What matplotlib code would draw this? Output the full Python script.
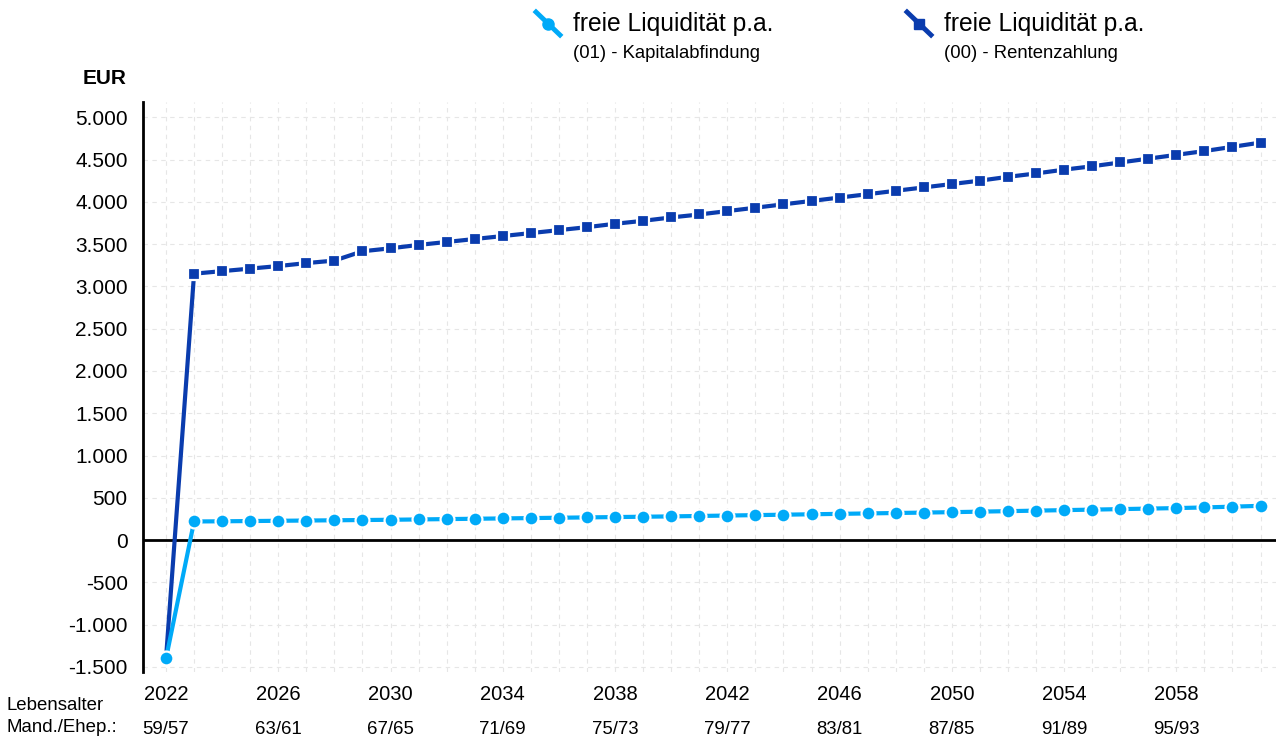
import numpy as np
import matplotlib.pyplot as plt
from matplotlib.lines import Line2D

plt.rcParams['font.family'] = ['Liberation Sans', 'DejaVu Sans']

jahre = list(range(2022, 2062))
rente = [-1400, 3150, 3180, 3210, 3240, 3275, 3305, 3415,
         3450, 3490, 3525, 3560, 3595, 3630, 3665, 3700, 3740, 3775,
         3815, 3850, 3890, 3930, 3970, 4010, 4050, 4090, 4130, 4170,
         4210, 4250, 4295, 4335, 4380, 4420, 4465, 4510, 4555, 4600,
         4650, 4700]
kapital = [-1400, 220, 222, 225, 228, 231, 234, 237, 240, 244, 248,
           252, 256, 260, 264, 268, 272, 276, 280, 285, 290,
           295, 300, 305, 310, 315, 320, 325, 330, 336, 342,
           348, 354, 360, 366, 372, 378, 386, 395, 405]
alter_mand = 59
alter_ehep = 57
yticks = list(range(-1500, 5001, 500))

dunkel = '#0a3cae'
hell = '#00aaf8'

W, H = 1277, 738
fig = plt.figure(figsize=(W / 100, H / 100), dpi=100)
ax = fig.add_axes([143 / W, 66 / H, (1276 - 143) / W, (636 - 66) / H])

ax.plot(jahre, rente, color=dunkel, lw=3, marker='s', ms=8.5,
        mec='white', mew=1.6, zorder=4)
ax.plot(jahre, kapital, color=hell, lw=3, marker='o', ms=10,
        mec='white', mew=1.6, zorder=4)
ax.axhline(0, color='black', lw=2, zorder=3)

ax.set_xlim(2021.18, 2061.55)
ax.set_ylim(-1560, 5180)
ax.set_yticks(yticks)
ax.set_yticklabels([f'{v:,}'.replace(',', '.') for v in yticks], fontsize=15)
ax.set_xticks(jahre[::4])
ax.set_xticklabels([str(j) for j in jahre[::4]], fontsize=14.5)
ax.set_xticks(jahre, minor=True)
ax.tick_params(axis='both', which='both', length=0)
ax.tick_params(axis='y', pad=11)
ax.tick_params(axis='x', pad=9)
ax.grid(True, which='both', axis='x', color='#e6e6e6', ls=(0, (4, 4)), lw=0.8)
ax.grid(True, which='major', axis='y', color='#e6e6e6', ls=(0, (4, 4)), lw=0.8)
ax.set_axisbelow(True)
for s in ['top', 'right', 'bottom']:
    ax.spines[s].set_visible(False)
ax.spines['left'].set_linewidth(2)

fig.text(127 / W, 1 - 78 / H, 'EUR', fontsize=15, fontweight='bold',
         ha='right', va='center')

# Lebensalter unter der Achse
fig.text(7 / W, 1 - 705 / H, 'Lebensalter', fontsize=13.4, va='center')
fig.text(7 / W, 1 - 727 / H, 'Mand./Ehep.:', fontsize=13.4, va='center')
for j in jahre[::4]:
    d = j - 2022
    ax.text(j, -0.1, f'{alter_mand + d}/{alter_ehep + d}', fontsize=13.4,
            ha='center', va='center', transform=ax.get_xaxis_transform())

# Legende
def legende(x, farbe, marker, ms, titel, sub):
    fig.add_artist(Line2D([x / W, (x + 24) / W], [1 - 12 / H, 1 - 35 / H],
                          color=farbe, lw=3.5, transform=fig.transFigure))
    fig.add_artist(Line2D([(x + 12) / W], [1 - 23.5 / H], color=farbe,
                          marker=marker, ms=ms, transform=fig.transFigure))
    fig.text((x + 37) / W, 1 - 24 / H, titel, fontsize=17.7, va='center')
    fig.text((x + 37) / W, 1 - 53 / H, sub, fontsize=13.3, va='center')

legende(536, hell, 'o', 8, 'freie Liquidität p.a.', '(01) - Kapitalabfindung')
legende(907, dunkel, 's', 7, 'freie Liquidität p.a.', '(00) - Rentenzahlung')

fig.savefig('out.png', dpi=100)
